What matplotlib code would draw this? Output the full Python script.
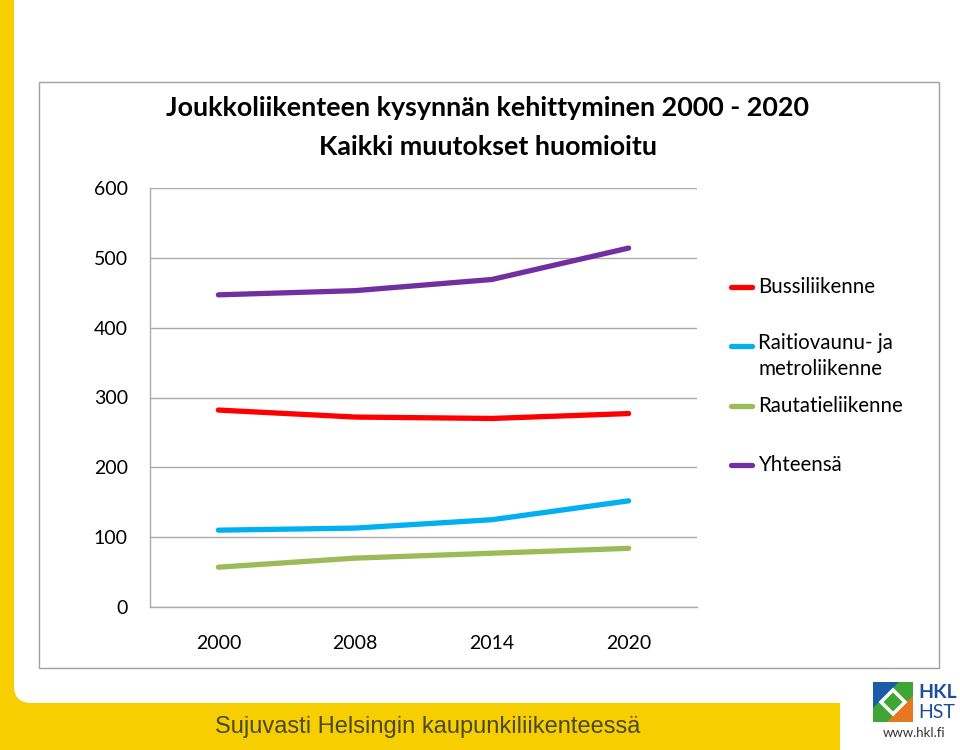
import matplotlib
matplotlib.use('Agg')
import matplotlib.pyplot as plt
from matplotlib.patches import FancyBboxPatch, Rectangle, Polygon
from matplotlib.lines import Line2D

# Data
years = ['2000', '2008', '2014', '2020']
bussi = [282, 272, 270, 277]
raitio = [110, 113, 125, 152]
rautatie = [57, 70, 77, 84]
yhteensa = [447, 453, 469, 514]

series_labels = ['Bussiliikenne', 'Raitiovaunu- ja\nmetroliikenne',
                 'Rautatieliikenne', 'Yhteensä']
series_colors = ['#FF0000', '#00B0F0', '#9BBB59', '#7030A0']
yticks = [0, 100, 200, 300, 400, 500, 600]

YELLOW = '#F7CE00'
FONT = ['Lato', 'DejaVu Sans']
W, H = 960, 750

fig = plt.figure(figsize=(9.6, 7.5), dpi=100)
fig.patch.set_facecolor('white')

def fx(px):
    return px / W

def fy(py):
    return 1 - py / H

# slide frame: yellow left bar and bottom band
fig.patches.append(Rectangle((0, 0), 1, 1, transform=fig.transFigure,
                             facecolor=YELLOW, edgecolor='none', zorder=0))
fig.patches.append(Rectangle((fx(840), 0), 1, fy(703), transform=fig.transFigure,
                             facecolor='white', edgecolor='none', zorder=0.5))
fig.patches.append(FancyBboxPatch((fx(14), fy(703)), fx(W), fy(-40) - fy(703),
                                  boxstyle='round,pad=0,rounding_size=0.018',
                                  mutation_aspect=W / H,
                                  transform=fig.transFigure,
                                  facecolor='white', edgecolor='none', zorder=1))

# chart box border
fig.patches.append(Rectangle((fx(39), fy(668)), fx(939 - 39), fy(82) - fy(668),
                             transform=fig.transFigure, facecolor='white',
                             edgecolor='#A0A0A0', linewidth=1.0, zorder=2))

ax = fig.add_axes([fx(150), fy(607), fx(697 - 150), fy(188) - fy(607)])
ax.set_zorder(3)
ax.patch.set_alpha(0)

x = list(range(len(years)))
all_series = [bussi, raitio, rautatie, yhteensa]
for vals, col in zip(all_series, series_colors):
    ax.plot(x, vals, color=col, linewidth=3.8, solid_capstyle='round',
            solid_joinstyle='round', zorder=3)

ax.set_xlim(-0.5, len(years) - 0.5)
ax.set_ylim(0, 600)
ax.set_yticks(yticks)
ax.set_xticks(x)
ax.set_xticklabels(years)
ax.yaxis.grid(True, color='#AAAAAA', linewidth=1.0)
ax.set_axisbelow(True)
for s in ['top', 'right']:
    ax.spines[s].set_visible(False)
for s in ['left', 'bottom']:
    ax.spines[s].set_color('#AAAAAA')
    ax.spines[s].set_linewidth(1.0)
ax.tick_params(axis='both', length=0, labelsize=14, labelcolor='black')
ax.tick_params(axis='y', pad=16)
ax.tick_params(axis='x', pad=20)
for lab in ax.get_xticklabels() + ax.get_yticklabels():
    lab.set_family(FONT)

# title
fig.text(fx(488), fy(108), 'Joukkoliikenteen kysynnän kehittyminen 2000 - 2020',
         ha='center', va='center', fontsize=19.4, fontweight='bold',
         family=FONT, zorder=4)
fig.text(fx(488), fy(147), 'Kaikki muutokset huomioitu',
         ha='center', va='center', fontsize=19.4, fontweight='bold',
         family=FONT, zorder=4)

# legend drawn beside the plot
legend_y = [287, 346, 406, 465]
for lbl, col, ly in zip(series_labels, series_colors, legend_y):
    fig.lines.append(Line2D([fx(731), fx(752)], [fy(ly), fy(ly)],
                            transform=fig.transFigure, color=col,
                            linewidth=3.8, solid_capstyle='round', zorder=4))
    if '\n' in lbl:
        fig.text(fx(758), fy(ly - 13), lbl, ha='left', va='top',
                 fontsize=14.8, family=FONT, linespacing=1.4, zorder=4)
    else:
        fig.text(fx(758), fy(ly), lbl, ha='left', va='center',
                 fontsize=14.8, family=FONT, zorder=4)

# footer slogan
fig.text(fx(428), fy(727), 'Sujuvasti Helsingin kaupunkiliikenteessä',
         ha='center', va='center', fontsize=17, color='#4A4A2A',
         family=['Liberation Sans', 'DejaVu Sans'], zorder=4)

# HKL logo
lx0, ly0, ls = 873, 722, 40
fig.patches.append(Rectangle((fx(lx0), fy(ly0)), fx(ls), fy(ly0 - ls) - fy(ly0),
                             transform=fig.transFigure, facecolor='#3FA535',
                             edgecolor='none', zorder=4))
fig.patches.append(Polygon([(fx(lx0), fy(ly0 - ls)), (fx(lx0 + 26), fy(ly0 - ls)),
                            (fx(lx0), fy(ly0 - 14))],
                           closed=True, transform=fig.transFigure,
                           facecolor='#1B5CA8', edgecolor='none', zorder=4.1))
fig.patches.append(Polygon([(fx(lx0 + ls), fy(ly0)), (fx(lx0 + 14), fy(ly0)),
                            (fx(lx0 + ls), fy(ly0 - 26))],
                           closed=True, transform=fig.transFigure,
                           facecolor='#E87722', edgecolor='none', zorder=4.1))
fig.patches.append(Polygon([(fx(lx0 + 8), fy(ly0 - 20)), (fx(lx0 + 20), fy(ly0 - 32)),
                            (fx(lx0 + 32), fy(ly0 - 20)), (fx(lx0 + 20), fy(ly0 - 8))],
                           closed=True, transform=fig.transFigure,
                           facecolor='none', edgecolor='white', linewidth=2.5,
                           zorder=4.2))
fig.text(fx(918), fy(693), 'HKL', ha='left', va='center', fontsize=14,
         fontweight='bold', color='#1B4F9C', family=FONT, zorder=4)
fig.text(fx(918), fy(712), 'HST', ha='left', va='center', fontsize=14,
         color='#1B4F9C', family=FONT, zorder=4)
fig.text(fx(914), fy(733), 'www.hkl.fi', ha='center', va='center', fontsize=9.5,
         color='#333333', family=FONT, zorder=4)

fig.savefig('out.png', dpi=100)
